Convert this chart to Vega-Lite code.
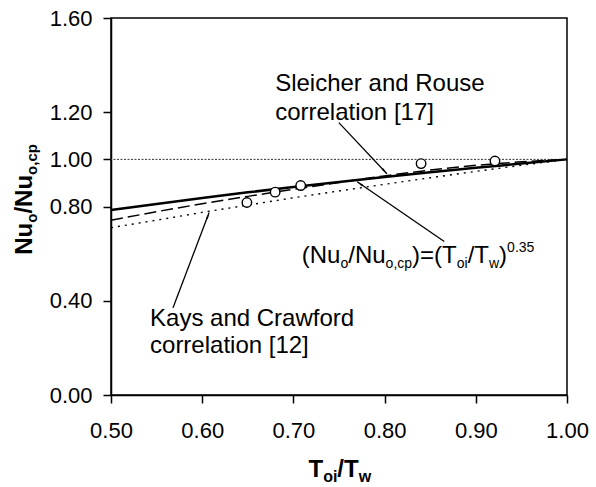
{
  "$schema": "https://vega.github.io/schema/vega-lite/v6.json",
  "width": 456,
  "height": 377,
  "autosize": {"type": "none"},
  "padding": {"left": 111, "top": 18, "right": 29, "bottom": 92},
  "background": "white",
  "datasets": {
    "curves": [
      {"T": 0.5, "ratio": 0.785, "series": "power"},
      {"T": 0.55, "ratio": 0.811, "series": "power"},
      {"T": 0.6, "ratio": 0.836, "series": "power"},
      {"T": 0.65, "ratio": 0.86, "series": "power"},
      {"T": 0.7, "ratio": 0.883, "series": "power"},
      {"T": 0.75, "ratio": 0.904, "series": "power"},
      {"T": 0.8, "ratio": 0.925, "series": "power"},
      {"T": 0.85, "ratio": 0.945, "series": "power"},
      {"T": 0.9, "ratio": 0.964, "series": "power"},
      {"T": 0.95, "ratio": 0.982, "series": "power"},
      {"T": 1.0, "ratio": 1.0, "series": "power"},
      {"T": 0.5, "ratio": 0.742, "series": "sleicher"},
      {"T": 0.55, "ratio": 0.778, "series": "sleicher"},
      {"T": 0.6, "ratio": 0.812, "series": "sleicher"},
      {"T": 0.65, "ratio": 0.843, "series": "sleicher"},
      {"T": 0.7, "ratio": 0.873, "series": "sleicher"},
      {"T": 0.75, "ratio": 0.902, "series": "sleicher"},
      {"T": 0.8, "ratio": 0.93, "series": "sleicher"},
      {"T": 0.85, "ratio": 0.955, "series": "sleicher"},
      {"T": 0.9, "ratio": 0.975, "series": "sleicher"},
      {"T": 0.95, "ratio": 0.99, "series": "sleicher"},
      {"T": 1.0, "ratio": 1.0, "series": "sleicher"},
      {"T": 0.5, "ratio": 0.71, "series": "kays"},
      {"T": 0.55, "ratio": 0.742, "series": "kays"},
      {"T": 0.6, "ratio": 0.775, "series": "kays"},
      {"T": 0.65, "ratio": 0.806, "series": "kays"},
      {"T": 0.7, "ratio": 0.837, "series": "kays"},
      {"T": 0.75, "ratio": 0.866, "series": "kays"},
      {"T": 0.8, "ratio": 0.894, "series": "kays"},
      {"T": 0.85, "ratio": 0.922, "series": "kays"},
      {"T": 0.9, "ratio": 0.949, "series": "kays"},
      {"T": 0.95, "ratio": 0.975, "series": "kays"},
      {"T": 1.0, "ratio": 1.0, "series": "kays"}
    ],
    "measured": [
      {"T": 0.649, "ratio": 0.817},
      {"T": 0.68, "ratio": 0.861},
      {"T": 0.708, "ratio": 0.889},
      {"T": 0.84, "ratio": 0.982},
      {"T": 0.921, "ratio": 0.993}
    ],
    "one": [{}]
  },
  "config": {
    "font": "Liberation Sans",
    "view": {"stroke": "#000", "strokeWidth": 1.5},
    "axis": {
      "grid": false,
      "domainColor": "#000",
      "domainWidth": 1.5,
      "tickColor": "#000",
      "tickWidth": 1.5,
      "tickSize": 8,
      "labelFont": "Liberation Sans",
      "labelFontSize": 22,
      "labelColor": "#000",
      "labelFlush": false,
      "labelOverlap": false,
      "title": null
    },
    "text": {"font": "Liberation Sans", "color": "#000"}
  },
  "layer": [
    {
      "data": {"name": "one"},
      "mark": {"type": "rule", "color": "#333", "strokeWidth": 1, "strokeDash": [2, 1.5]},
      "encoding": {"y": {"datum": 1.0, "type": "quantitative"}}
    },
    {
      "data": {"name": "curves"},
      "transform": [{"filter": "datum.series === 'kays'"}],
      "mark": {"type": "line", "color": "#000", "strokeWidth": 1.4, "strokeDash": [2, 5]},
      "encoding": {
        "x": {
          "field": "T", "type": "quantitative",
          "scale": {"domain": [0.5, 1.0], "nice": false, "zero": false},
          "axis": {"values": [0.5, 0.6, 0.7, 0.8, 0.9, 1.0], "format": ".2f", "labelPadding": 17, "labelFlush": false, "title": null}
        },
        "y": {
          "field": "ratio", "type": "quantitative",
          "scale": {"domain": [0, 1.6], "nice": false},
          "axis": {"values": [0, 0.4, 0.8, 1.0, 1.2, 1.6], "format": ".2f", "labelPadding": 11, "labelFlush": false, "title": null}
        }
      }
    },
    {
      "data": {"name": "curves"},
      "transform": [{"filter": "datum.series === 'sleicher'"}],
      "mark": {"type": "line", "color": "#000", "strokeWidth": 1.5, "strokeDash": [12, 5]},
      "encoding": {
        "x": {"field": "T", "type": "quantitative"},
        "y": {"field": "ratio", "type": "quantitative"}
      }
    },
    {
      "data": {"name": "curves"},
      "transform": [{"filter": "datum.series === 'power'"}],
      "mark": {"type": "line", "color": "#000", "strokeWidth": 2.5},
      "encoding": {
        "x": {"field": "T", "type": "quantitative"},
        "y": {"field": "ratio", "type": "quantitative"}
      }
    },
    {
      "data": {"name": "measured"},
      "mark": {"type": "point", "shape": "circle", "filled": true, "fill": "white", "stroke": "#000", "strokeWidth": 1.4, "size": 90, "opacity": 1},
      "encoding": {
        "x": {"field": "T", "type": "quantitative"},
        "y": {"field": "ratio", "type": "quantitative"}
      }
    },
    {
      "data": {"name": "one"},
      "mark": {"type": "rule", "color": "#000", "strokeWidth": 1.3},
      "encoding": {
        "x": {"datum": 0.7498, "type": "quantitative"},
        "y": {"datum": 1.156, "type": "quantitative"},
        "x2": {"datum": 0.8025},
        "y2": {"datum": 0.939}
      }
    },
    {
      "data": {"name": "one"},
      "mark": {"type": "rule", "color": "#000", "strokeWidth": 1.3},
      "encoding": {
        "x": {"datum": 0.8654, "type": "quantitative"},
        "y": {"datum": 0.6515, "type": "quantitative"},
        "x2": {"datum": 0.77},
        "y2": {"datum": 0.905}
      }
    },
    {
      "data": {"name": "one"},
      "mark": {"type": "rule", "color": "#000", "strokeWidth": 1.3},
      "encoding": {
        "x": {"datum": 0.568, "type": "quantitative"},
        "y": {"datum": 0.37, "type": "quantitative"},
        "x2": {"datum": 0.6075},
        "y2": {"datum": 0.7735}
      }
    },
    {
      "data": {"name": "one"},
      "mark": {"type": "point", "shape": "wedge", "filled": true, "color": "#000", "size": 70, "opacity": 1, "angle": 137},
      "encoding": {
        "x": {"datum": 0.7995, "type": "quantitative"},
        "y": {"datum": 0.952, "type": "quantitative"}
      }
    },
    {
      "data": {"name": "one"},
      "mark": {"type": "point", "shape": "wedge", "filled": true, "color": "#000", "size": 70, "opacity": 1, "angle": 304.5},
      "encoding": {
        "x": {"datum": 0.7737, "type": "quantitative"},
        "y": {"datum": 0.894, "type": "quantitative"}
      }
    },
    {
      "data": {"name": "one"},
      "mark": {"type": "point", "shape": "wedge", "filled": true, "color": "#000", "size": 70, "opacity": 1, "angle": 21},
      "encoding": {
        "x": {"datum": 0.6061, "type": "quantitative"},
        "y": {"datum": 0.758, "type": "quantitative"}
      }
    },
    {
      "data": {"name": "one"},
      "mark": {"type": "text", "text": ["Sleicher and Rouse", "correlation [17]"], "fontSize": 24, "align": "left", "baseline": "alphabetic", "lineHeight": 28.5},
      "encoding": {
        "x": {"datum": 0.68, "type": "quantitative"},
        "y": {"datum": 1.289, "type": "quantitative"}
      }
    },
    {
      "data": {"name": "one"},
      "mark": {"type": "text", "text": ["Kays and Crawford", "correlation [12]"], "fontSize": 24, "align": "left", "baseline": "alphabetic", "lineHeight": 27},
      "encoding": {
        "x": {"datum": 0.5428, "type": "quantitative"},
        "y": {"datum": 0.293, "type": "quantitative"}
      }
    },
    {
      "data": {"name": "one"},
      "encoding": {
        "x": {"datum": 0.7092, "type": "quantitative"},
        "y": {"datum": 0.56, "type": "quantitative"}
      },
      "layer": [
        {"mark": {"type": "text", "text": "(Nu", "fontSize": 24, "align": "left", "baseline": "alphabetic", "dx": 0}},
        {"mark": {"type": "text", "text": "o", "fontSize": 14, "align": "left", "baseline": "alphabetic", "dx": 38.7, "dy": 5}},
        {"mark": {"type": "text", "text": "/Nu", "fontSize": 24, "align": "left", "baseline": "alphabetic", "dx": 46.5}},
        {"mark": {"type": "text", "text": "o,cp", "fontSize": 14, "align": "left", "baseline": "alphabetic", "dx": 83.8, "dy": 5}},
        {"mark": {"type": "text", "text": ")=(T", "fontSize": 24, "align": "left", "baseline": "alphabetic", "dx": 110.3}},
        {"mark": {"type": "text", "text": "oi", "fontSize": 14, "align": "left", "baseline": "alphabetic", "dx": 155.0, "dy": 5}},
        {"mark": {"type": "text", "text": "/T", "fontSize": 24, "align": "left", "baseline": "alphabetic", "dx": 165.9}},
        {"mark": {"type": "text", "text": "w", "fontSize": 14, "align": "left", "baseline": "alphabetic", "dx": 187.2, "dy": 5}},
        {"mark": {"type": "text", "text": ")", "fontSize": 24, "align": "left", "baseline": "alphabetic", "dx": 197.3}},
        {"mark": {"type": "text", "text": "0.35", "fontSize": 14, "align": "left", "baseline": "alphabetic", "dx": 205.3, "dy": -11}}
      ]
    },
    {
      "data": {"name": "one"},
      "encoding": {
        "x": {"datum": 0.7165, "type": "quantitative"},
        "y": {"datum": -0.35, "type": "quantitative"}
      },
      "layer": [
        {"mark": {"type": "text", "text": "T", "fontSize": 24, "fontWeight": "bold", "align": "left", "baseline": "alphabetic"}},
        {"mark": {"type": "text", "text": "oi", "fontSize": 16, "fontWeight": "bold", "align": "left", "baseline": "alphabetic", "dx": 14.7, "dy": 5}},
        {"mark": {"type": "text", "text": "/T", "fontSize": 24, "fontWeight": "bold", "align": "left", "baseline": "alphabetic", "dx": 28.9}},
        {"mark": {"type": "text", "text": "w", "fontSize": 16, "fontWeight": "bold", "align": "left", "baseline": "alphabetic", "dx": 50.2, "dy": 5}}
      ]
    },
    {
      "data": {"name": "one"},
      "encoding": {
        "x": {"datum": 0.4133, "type": "quantitative"},
        "y": {"datum": 0.595, "type": "quantitative"}
      },
      "layer": [
        {"mark": {"type": "text", "text": "Nu", "fontSize": 24, "fontWeight": "bold", "align": "left", "baseline": "alphabetic", "angle": 270}},
        {"mark": {"type": "text", "text": "o", "fontSize": 15, "fontWeight": "bold", "align": "left", "baseline": "alphabetic", "angle": 270, "dx": 32.0, "dy": 5}},
        {"mark": {"type": "text", "text": "/Nu", "fontSize": 24, "fontWeight": "bold", "align": "left", "baseline": "alphabetic", "angle": 270, "dx": 41.2}},
        {"mark": {"type": "text", "text": "o,cp", "fontSize": 15, "fontWeight": "bold", "align": "left", "baseline": "alphabetic", "angle": 270, "dx": 79.9, "dy": 5}}
      ]
    }
  ]
}
